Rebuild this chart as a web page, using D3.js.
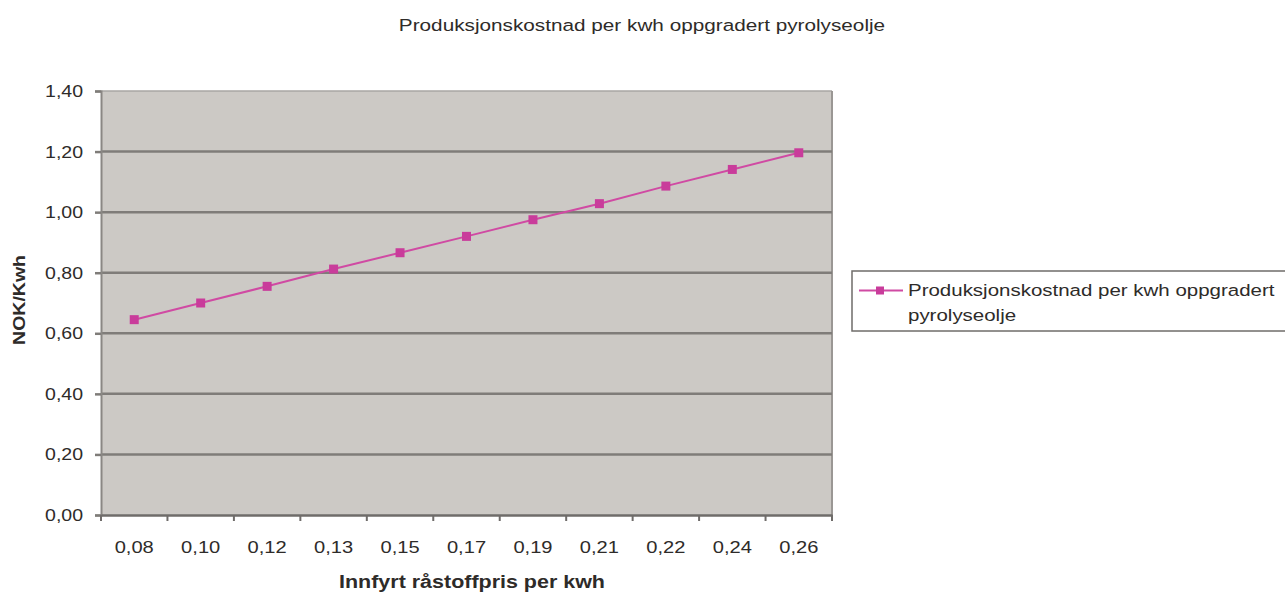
<!DOCTYPE html>
<html>
<head>
<meta charset="utf-8">
<script src="https://cdn.jsdelivr.net/npm/d3@7"></script>
<style>
  html, body { margin: 0; padding: 0; background: #ffffff; }
  svg { display: block; }
  text { font-family: "Liberation Sans", Arial, sans-serif; fill: #2e2b29; }
</style>
</head>
<body>
<svg id="chart" width="1285" height="592"></svg>
<script>
// Data
const chartTitle = "Produksjonskostnad per kwh oppgradert pyrolyseolje";
const seriesName = "Produksjonskostnad per kwh oppgradert pyrolyseolje";
const categories = ["0,08", "0,10", "0,12", "0,13", "0,15", "0,17", "0,19", "0,21", "0,22", "0,24", "0,26"];
const costValues = [0.645, 0.700, 0.755, 0.812, 0.866, 0.920, 0.975, 1.028, 1.086, 1.141, 1.196];
const yTicks = [0, 0.2, 0.4, 0.6, 0.8, 1.0, 1.2, 1.4];
const xTitle = "Innfyrt råstoffpris per kwh";
const yTitle = "NOK/Kwh";

const svg = d3.select("#chart");
const plot = { left: 101, right: 832, top: 91, bottom: 515 };
const stretchX = 1.22;   // wide-set lettering
const lineColor = "#d04aa3";
const markerColor = "#c93c9b";

const x = d3.scaleBand().domain(categories).range([plot.left, plot.right]).padding(0);
const y = d3.scaleLinear().domain([0, 1.4]).range([plot.bottom, plot.top]);

// text helper: places text at (tx, ty) with horizontal stretch
function label(parent, tx, ty, str, opts = {}) {
  const t = parent.append("text")
    .attr("transform", `translate(${tx},${ty})${opts.rotate ? ` rotate(${opts.rotate})` : ""} scale(${stretchX},1)`)
    .attr("text-anchor", opts.anchor || "start")
    .style("font-size", (opts.size || 16) + "px")
    .style("font-weight", opts.bold ? "bold" : "normal")
    .text(str);
  return t;
}

// plot background
svg.append("rect")
  .attr("x", plot.left).attr("y", plot.top)
  .attr("width", plot.right - plot.left).attr("height", plot.bottom - plot.top)
  .attr("fill", "#ccc9c5");

// top and right borders
svg.append("line")
  .attr("x1", plot.left).attr("x2", plot.right)
  .attr("y1", plot.top).attr("y2", plot.top)
  .attr("stroke", "#a9a6a3").attr("stroke-width", 1.5);
svg.append("line")
  .attr("x1", plot.right).attr("x2", plot.right)
  .attr("y1", plot.top).attr("y2", plot.bottom)
  .attr("stroke", "#9a9794").attr("stroke-width", 2);

// horizontal gridlines
svg.append("g")
  .selectAll("line")
  .data(yTicks.filter(d => d > 0 && d < 1.4))
  .join("line")
  .attr("x1", plot.left).attr("x2", plot.right)
  .attr("y1", d => y(d)).attr("y2", d => y(d))
  .attr("stroke", "#7f7c79").attr("stroke-width", 2.5);

// y axis
const yAxis = d3.axisLeft(y).tickValues(yTicks).tickSize(6).tickFormat("");
const gy = svg.append("g").attr("transform", `translate(${plot.left},0)`).call(yAxis);
gy.select(".domain").attr("stroke", "#8a8784").attr("stroke-width", 2);
gy.selectAll(".tick line").attr("stroke", "#7f7c79").attr("stroke-width", 2.5);
yTicks.forEach(v => {
  label(svg, 83, y(v) + 6, d3.format(".2f")(v).replace(".", ","), { anchor: "end", size: 16 });
});

// x axis
const xAxis = d3.axisBottom(x).tickSize(0).tickFormat("");
const gx = svg.append("g").attr("transform", `translate(0,${plot.bottom})`).call(xAxis);
gx.select(".domain").attr("stroke", "#6f6c6a").attr("stroke-width", 2.5);
const boundaries = categories.map(c => x(c)).concat([plot.right]);
svg.append("g")
  .selectAll("line")
  .data(boundaries)
  .join("line")
  .attr("x1", d => d).attr("x2", d => d)
  .attr("y1", plot.bottom).attr("y2", plot.bottom + 6)
  .attr("stroke", "#6f6c6a").attr("stroke-width", 2);
categories.forEach(c => {
  label(svg, x(c) + x.bandwidth() / 2, 553, c, { anchor: "middle", size: 16.5 });
});

// series line
const pts = categories.map((c, i) => ({ c, v: costValues[i] }));
const line = d3.line().x(d => x(d.c) + x.bandwidth() / 2).y(d => y(d.v));
svg.append("path")
  .datum(pts)
  .attr("d", line)
  .attr("fill", "none")
  .attr("stroke", lineColor)
  .attr("stroke-width", 2);

svg.append("g")
  .selectAll("rect")
  .data(pts)
  .join("rect")
  .attr("x", d => x(d.c) + x.bandwidth() / 2 - 4.5)
  .attr("y", d => y(d.v) - 4.5)
  .attr("width", 9).attr("height", 9)
  .attr("fill", markerColor);

// titles
label(svg, 642, 31, chartTitle, { anchor: "middle", size: 17 });
label(svg, 472, 588, xTitle, { anchor: "middle", size: 17.6, bold: true });
label(svg, 25, 300, yTitle, { anchor: "middle", size: 16, bold: true, rotate: -90 });

// legend
const lg = svg.append("g");
lg.append("rect")
  .attr("x", 852).attr("y", 271)
  .attr("width", 460).attr("height", 60)
  .attr("fill", "#ffffff")
  .attr("stroke", "#6f6c6a").attr("stroke-width", 1.5);
lg.append("line")
  .attr("x1", 859).attr("x2", 903)
  .attr("y1", 290.5).attr("y2", 290.5)
  .attr("stroke", lineColor).attr("stroke-width", 2);
lg.append("rect")
  .attr("x", 876).attr("y", 286.5)
  .attr("width", 8).attr("height", 8)
  .attr("fill", markerColor);
const words = seriesName.split(" ");
label(lg, 908, 296, words.slice(0, 4).join(" "), { size: 16.8 });
label(lg, 908, 321, words.slice(4).join(" "), { size: 16.8 });
</script>
</body>
</html>
